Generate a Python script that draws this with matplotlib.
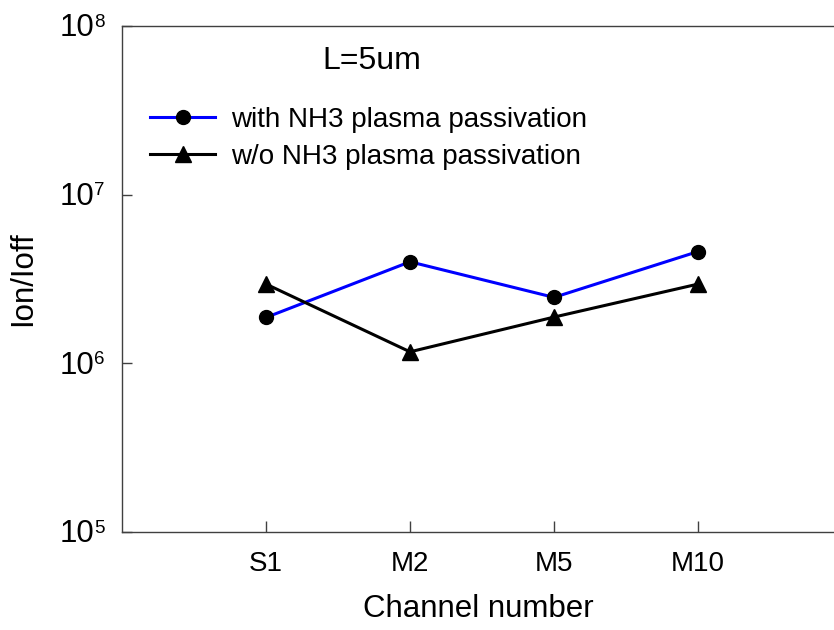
import numpy as np
import matplotlib
matplotlib.use("Agg")
import matplotlib.pyplot as plt

plt.rcParams['font.family'] = ['Liberation Sans', 'DejaVu Sans']

# On/off current ratio for each channel type
channels = ["S1", "M2", "M5", "M10"]
with_nh3 = [1.87e6, 4.0e6, 2.46e6, 4.6e6]
without_nh3 = [2.95e6, 1.17e6, 1.88e6, 2.95e6]
decades = [1e5, 1e6, 1e7, 1e8]

W, H = 834, 630
fig = plt.figure(figsize=(W / 100, H / 100), dpi=100)
ax = fig.add_axes([122 / W, 1 - 532 / H, 1 - 122 / W, (532 - 26) / H])

x = np.arange(1, len(channels) + 1)
ax.plot(x, with_nh3, color='#0000ff', lw=2.2, marker='o', ms=10,
        mfc='black', mec='black', label='with NH3 plasma passivation')
ax.plot(x, without_nh3, color='black', lw=2.2, marker='^', ms=11,
        mfc='black', mec='black', label='w/o NH3 plasma passivation')

ax.set_yscale('log')
ax.set_ylim(decades[0], decades[-1])
ax.set_xlim(0, (W - 122) / 144)
ax.set_yticks(decades)
ax.set_yticklabels([])
ax.minorticks_off()
ax.set_xticks(x)
ax.set_xticklabels(channels)

ax.tick_params(axis='y', direction='in', length=7, width=1, color='#404040')
ax.tick_params(axis='x', direction='in', length=8, width=1, labelsize=20,
               pad=14, color='#404040')

# decade labels: "10" with a small raised exponent
for v in decades:
    e = int(round(np.log10(v)))
    ax.annotate('10', xy=(0, v), xycoords=('axes fraction', 'data'),
                xytext=(-20.0, -7.4), textcoords='offset points',
                ha='right', va='baseline', fontsize=22.5)
    ax.annotate(str(e), xy=(0, v), xycoords=('axes fraction', 'data'),
                xytext=(-20.2, 8.8), textcoords='offset points',
                ha='left', va='top', fontsize=13.5)

for side in ['left', 'top', 'bottom']:
    ax.spines[side].set_color('#404040')
    ax.spines[side].set_linewidth(1.0)
ax.spines['right'].set_visible(False)

ax.set_xlabel('Channel number', fontsize=22.5, labelpad=12)
ax.set_ylabel('Ion/Ioff', fontsize=22.5)
ax.yaxis.set_label_coords((38 - 122) / (W - 122), 0.5)

fig.text(322 / W, 1 - 61 / H, 'L=5um', fontsize=23, va='center', ha='left')

ax.legend(loc='upper left', bbox_to_anchor=(150 / W, 1 - 107 / H),
          bbox_transform=fig.transFigure, frameon=False, fontsize=20,
          borderpad=0, borderaxespad=0, handlelength=2.35,
          handletextpad=0.55, labelspacing=0.38)

fig.savefig('out.png', dpi=100)
